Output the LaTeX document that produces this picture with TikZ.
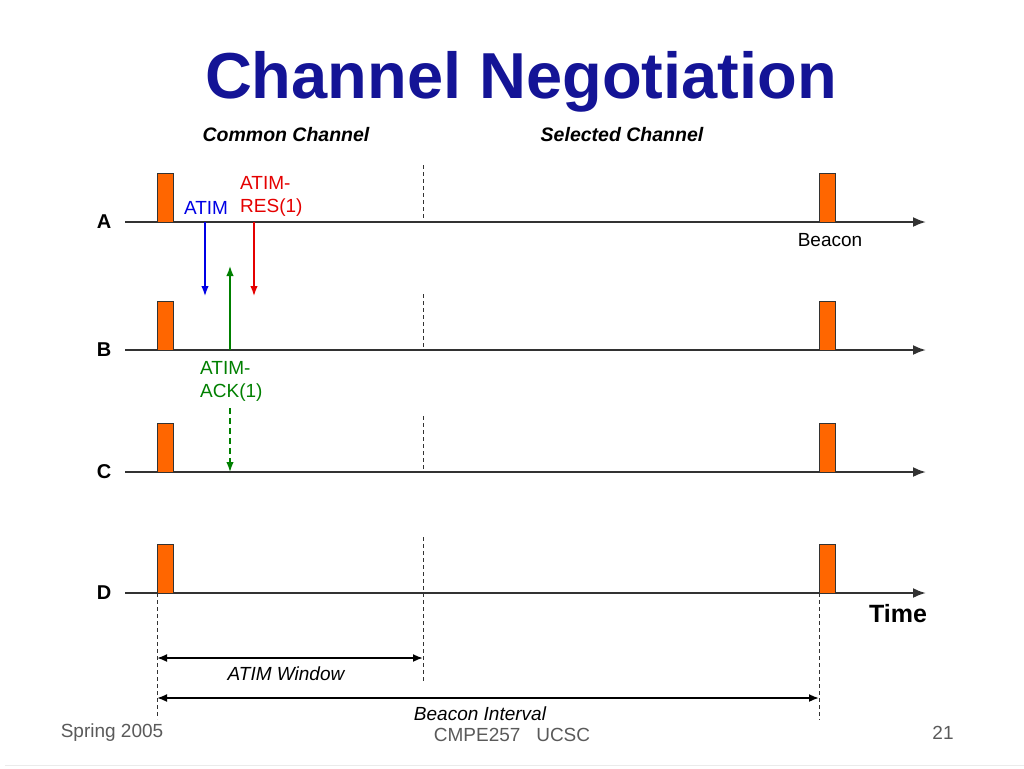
\documentclass[tikz,border=0pt]{standalone}
\usepackage{fontspec}
\setmainfont{Liberation Sans}
\usetikzlibrary{arrows.meta}
\definecolor{titleblue}{RGB}{20,20,150}
\definecolor{beaconorange}{RGB}{255,102,0}
\definecolor{linegray}{RGB}{50,50,50}
\definecolor{footgray}{RGB}{90,90,90}
\definecolor{ackgreen}{RGB}{0,128,0}
\begin{document}
\begin{tikzpicture}[x=1pt,y=-1pt,
  timeline/.style={draw=linegray,line width=2.2pt,-{Latex[length=13pt,width=10pt]}},
  beaconbox/.style={draw=black!80,fill=beaconorange,line width=1pt},
  guide/.style={draw=black!80,line width=0.9pt,dash pattern=on 4pt off 3pt},
  msg/.style={line width=1.5pt,-{Latex[length=10pt,width=7.5pt]}},
  span/.style={draw=black,line width=1.8pt,{Latex[length=10pt,width=8pt]}-{Latex[length=10pt,width=8pt]}},
  lbl/.style={font=\fontsize{19}{23}\selectfont,inner sep=0pt,align=left},
  rowlbl/.style={font=\fontsize{20}{22}\selectfont\bfseries,inner sep=0pt},
  head/.style={font=\fontsize{19.5}{21}\selectfont\bfseries\itshape,inner sep=0pt},
  foot/.style={font=\fontsize{19}{20}\selectfont,text=footgray,inner sep=0pt}]
\useasboundingbox (0,0) rectangle (1024,768);
\fill[white] (0,0) rectangle (1024,768);
\draw[black!8,line width=1pt] (5,765) -- (1024,765);

\node[font=\fontsize{65}{70}\selectfont\bfseries,text=titleblue,inner sep=0pt] (title) at (521,82) {Channel Negotiation};
\node[head] (common) at (286,135) {Common Channel};
\node[head] (selected) at (622,135) {Selected Channel};

% timelines
\foreach \n/\y in {A/222,B/350,C/472,D/593}{
  \coordinate (\n s) at (125,\y);
  \coordinate (\n e) at (926,\y);
  \node[rowlbl] (lbl\n) at (104,\y) {\n};
}
% dashed guides
\coordinate (gA1) at (423,165); \coordinate (gA2) at (423,222);
\coordinate (gB1) at (423,294); \coordinate (gB2) at (423,350);
\coordinate (gC1) at (423,416); \coordinate (gC2) at (423,472);
\coordinate (gD1) at (423,537); \coordinate (gD2) at (423,682);
\coordinate (gL1) at (157,593); \coordinate (gL2) at (157,719);
\coordinate (gR1) at (819,593); \coordinate (gR2) at (819,720);
\foreach \g in {A,B,C,D,L,R}{\draw[guide] (g\g1) -- (g\g2);}

\foreach \n in {A,B,C,D}{\draw[timeline] (\n s) -- (\n e);}

% beacons
\foreach \n/\y in {A/222,B/350,C/472,D/593}{
  \draw[beaconbox] (157,\y-49) rectangle (173,\y);
  \draw[beaconbox] (819,\y-49) rectangle (835,\y);
}
\node[lbl] (beacon) at (830,240) {Beacon};
\node[font=\fontsize{25}{28}\selectfont\bfseries,inner sep=0pt] (time) at (898,614) {Time};

% messages
\coordinate (atimS) at (205,222); \coordinate (atimE) at (205,296);
\draw[msg,blue!90!black] (atimS) -- (atimE);
\node[lbl,text=blue!90!black] (atim) at (206,208) {ATIM};
\coordinate (resS) at (254,222); \coordinate (resE) at (254,296);
\draw[msg,red!90!black] (resS) -- (resE);
\node[lbl,text=red!90!black,anchor=west] (res) at (240,196) {ATIM-\\RES(1)};
\coordinate (ackS) at (230,350); \coordinate (ackE) at (230,266);
\draw[msg,ackgreen] (ackS) -- (ackE);
\node[lbl,text=ackgreen,anchor=west] (ack) at (200,381) {ATIM-\\ACK(1)};
\coordinate (ack2S) at (230,408); \coordinate (ack2E) at (230,472);
\draw[msg,ackgreen,dash pattern=on 6pt off 4pt] (ack2S) -- (ack2E);

% spans
\coordinate (wS) at (157,658); \coordinate (wE) at (423,658);
\draw[span] (wS) -- (wE);
\node[lbl,font=\fontsize{19}{21}\selectfont\itshape] (win) at (286,674) {ATIM Window};
\coordinate (iS) at (157,698); \coordinate (iE) at (819,698);
\draw[span] (iS) -- (iE);
\node[lbl,font=\fontsize{19}{21}\selectfont\itshape] (intv) at (480,714) {Beacon Interval};

% footer
\node[foot] (f1) at (112,733) {Spring 2005};
\node[foot] (f2) at (512,735) {CMPE257\ \ \ UCSC};
\node[foot] (f3) at (943,733) {21};
\end{tikzpicture}
\end{document}
